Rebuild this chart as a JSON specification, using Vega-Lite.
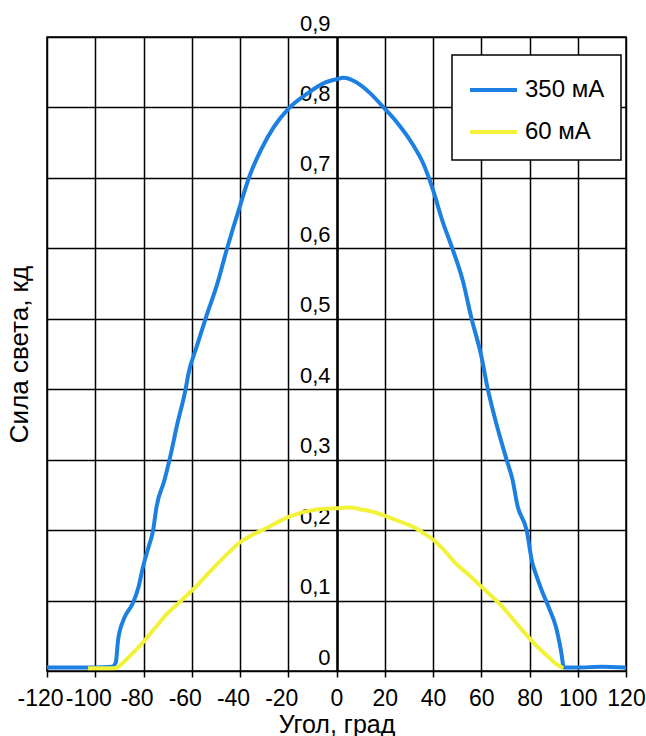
{
  "$schema": "https://vega.github.io/schema/vega-lite/v6.json",
  "width": 579,
  "height": 634,
  "autosize": "none",
  "padding": {"left": 47, "top": 37, "right": 20, "bottom": 65},
  "background": "white",
  "config": {
    "view": {"stroke": "black", "strokeWidth": 1.5},
    "font": "Liberation Sans",
    "axis": {"gridColor": "black", "gridOpacity": 1, "gridWidth": 1.5, "labelFont": "Liberation Sans", "titleFont": "Liberation Sans", "labelColor": "black", "titleColor": "black", "titleFontWeight": "normal"}
  },
  "data": {"values": [
    {"angle": -120, "value": 0.005, "series": "350 мА"},
    {"angle": -110, "value": 0.005, "series": "350 мА"},
    {"angle": -100, "value": 0.005, "series": "350 мА"},
    {"angle": -93, "value": 0.006, "series": "350 мА"},
    {"angle": -91.5, "value": 0.012, "series": "350 мА"},
    {"angle": -90.5, "value": 0.045, "series": "350 мА"},
    {"angle": -88, "value": 0.075, "series": "350 мА"},
    {"angle": -84.6, "value": 0.095, "series": "350 мА"},
    {"angle": -82, "value": 0.12, "series": "350 мА"},
    {"angle": -80.4, "value": 0.145, "series": "350 мА"},
    {"angle": -78, "value": 0.175, "series": "350 мА"},
    {"angle": -76, "value": 0.2, "series": "350 мА"},
    {"angle": -74.6, "value": 0.233, "series": "350 мА"},
    {"angle": -71.3, "value": 0.271, "series": "350 мА"},
    {"angle": -69.2, "value": 0.3, "series": "350 мА"},
    {"angle": -65.9, "value": 0.352, "series": "350 мА"},
    {"angle": -62.6, "value": 0.399, "series": "350 мА"},
    {"angle": -61.3, "value": 0.423, "series": "350 мА"},
    {"angle": -58, "value": 0.46, "series": "350 мА"},
    {"angle": -54, "value": 0.503, "series": "350 мА"},
    {"angle": -49.3, "value": 0.551, "series": "350 мА"},
    {"angle": -45.6, "value": 0.597, "series": "350 мА"},
    {"angle": -43.1, "value": 0.626, "series": "350 мА"},
    {"angle": -40.2, "value": 0.658, "series": "350 мА"},
    {"angle": -36, "value": 0.703, "series": "350 мА"},
    {"angle": -31, "value": 0.742, "series": "350 мА"},
    {"angle": -26, "value": 0.772, "series": "350 мА"},
    {"angle": -20, "value": 0.798, "series": "350 мА"},
    {"angle": -12, "value": 0.82, "series": "350 мА"},
    {"angle": -5, "value": 0.835, "series": "350 мА"},
    {"angle": 0, "value": 0.84, "series": "350 мА"},
    {"angle": 3, "value": 0.842, "series": "350 мА"},
    {"angle": 8, "value": 0.836, "series": "350 мА"},
    {"angle": 14, "value": 0.82, "series": "350 мА"},
    {"angle": 19.5, "value": 0.8, "series": "350 мА"},
    {"angle": 25, "value": 0.779, "series": "350 мА"},
    {"angle": 31.5, "value": 0.748, "series": "350 мА"},
    {"angle": 36, "value": 0.72, "series": "350 мА"},
    {"angle": 39.8, "value": 0.685, "series": "350 мА"},
    {"angle": 44, "value": 0.638, "series": "350 мА"},
    {"angle": 48, "value": 0.6, "series": "350 мА"},
    {"angle": 52.2, "value": 0.556, "series": "350 мА"},
    {"angle": 56, "value": 0.5, "series": "350 мА"},
    {"angle": 60.1, "value": 0.446, "series": "350 мА"},
    {"angle": 62.6, "value": 0.402, "series": "350 мА"},
    {"angle": 65.5, "value": 0.361, "series": "350 мА"},
    {"angle": 70.5, "value": 0.3, "series": "350 мА"},
    {"angle": 73, "value": 0.271, "series": "350 мА"},
    {"angle": 75, "value": 0.235, "series": "350 мА"},
    {"angle": 78.8, "value": 0.2, "series": "350 мА"},
    {"angle": 81.2, "value": 0.153, "series": "350 мА"},
    {"angle": 82.5, "value": 0.139, "series": "350 мА"},
    {"angle": 85, "value": 0.115, "series": "350 мА"},
    {"angle": 87.9, "value": 0.091, "series": "350 мА"},
    {"angle": 91, "value": 0.062, "series": "350 мА"},
    {"angle": 93, "value": 0.03, "series": "350 мА"},
    {"angle": 94.3, "value": 0.005, "series": "350 мА"},
    {"angle": 100, "value": 0.005, "series": "350 мА"},
    {"angle": 110, "value": 0.006, "series": "350 мА"},
    {"angle": 120, "value": 0.005, "series": "350 мА"},
    {"angle": -103, "value": 0.004, "series": "60 мА"},
    {"angle": -92, "value": 0.004, "series": "60 мА"},
    {"angle": -91, "value": 0.005, "series": "60 мА"},
    {"angle": -86, "value": 0.02, "series": "60 мА"},
    {"angle": -80.4, "value": 0.04, "series": "60 мА"},
    {"angle": -75, "value": 0.062, "series": "60 мА"},
    {"angle": -70, "value": 0.082, "series": "60 мА"},
    {"angle": -65, "value": 0.098, "series": "60 мА"},
    {"angle": -60.9, "value": 0.111, "series": "60 мА"},
    {"angle": -56, "value": 0.128, "series": "60 мА"},
    {"angle": -50, "value": 0.15, "series": "60 мА"},
    {"angle": -45, "value": 0.167, "series": "60 мА"},
    {"angle": -40.2, "value": 0.182, "series": "60 мА"},
    {"angle": -35, "value": 0.193, "series": "60 мА"},
    {"angle": -29, "value": 0.203, "series": "60 мА"},
    {"angle": -24, "value": 0.212, "series": "60 мА"},
    {"angle": -19.5, "value": 0.219, "series": "60 мА"},
    {"angle": -15.3, "value": 0.224, "series": "60 мА"},
    {"angle": -8.7, "value": 0.229, "series": "60 мА"},
    {"angle": 0, "value": 0.231, "series": "60 мА"},
    {"angle": 5, "value": 0.232, "series": "60 мА"},
    {"angle": 10.8, "value": 0.229, "series": "60 мА"},
    {"angle": 15, "value": 0.226, "series": "60 мА"},
    {"angle": 19.5, "value": 0.221, "series": "60 мА"},
    {"angle": 25, "value": 0.214, "series": "60 мА"},
    {"angle": 31.5, "value": 0.205, "series": "60 мА"},
    {"angle": 36, "value": 0.196, "series": "60 мА"},
    {"angle": 40.2, "value": 0.186, "series": "60 мА"},
    {"angle": 45, "value": 0.17, "series": "60 мА"},
    {"angle": 49.3, "value": 0.153, "series": "60 мА"},
    {"angle": 55, "value": 0.136, "series": "60 мА"},
    {"angle": 60, "value": 0.12, "series": "60 мА"},
    {"angle": 65, "value": 0.104, "series": "60 мА"},
    {"angle": 68.8, "value": 0.091, "series": "60 мА"},
    {"angle": 74, "value": 0.07, "series": "60 мА"},
    {"angle": 79.6, "value": 0.048, "series": "60 мА"},
    {"angle": 84, "value": 0.032, "series": "60 мА"},
    {"angle": 87.9, "value": 0.02, "series": "60 мА"},
    {"angle": 91, "value": 0.01, "series": "60 мА"},
    {"angle": 94, "value": 0.004, "series": "60 мА"}
  ]},
  "mark": {"type": "line", "strokeWidth": 4, "clip": true, "interpolate": "monotone"},
  "encoding": {
    "x": {
      "field": "angle", "type": "quantitative",
      "scale": {"domain": [-120, 120], "nice": false},
      "axis": {
        "title": "Угол, град", "titleFontSize": 25, "titlePadding": 2,
        "values": [-120, -100, -80, -60, -40, -20, 0, 20, 40, 60, 80, 100, 120],
        "labelExpr": "datum.value + ''",
        "labelFontSize": 23, "labelPadding": 10, "labelFlush": false, "labelOverlap": false,
        "tickColor": "black", "tickSize": 6, "tickWidth": 1.5,
        "domain": false, "grid": true,
        "labelOffset": {"condition": {"test": "datum.value < 0", "value": -7}, "value": 0}
      }
    },
    "y": {
      "field": "value", "type": "quantitative",
      "scale": {"domain": [0, 0.9], "nice": false},
      "axis": {
        "title": "Сила света, кд", "titleFontSize": 26, "titleX": -305,
        "values": [0, 0.1, 0.2, 0.3, 0.4, 0.5, 0.6, 0.7, 0.8, 0.9],
        "labelExpr": "datum.value == 0 ? '0' : replace(format(datum.value, '.1f'), '.', ',')",
        "labelFontSize": 22, "labelOffset": -14, "labelPadding": 7, "labelFlush": false, "labelOverlap": false,
        "offset": -290, "ticks": false,
        "domain": true, "domainColor": "black", "domainWidth": 2.5,
        "grid": true
      }
    },
    "color": {
      "field": "series", "type": "nominal",
      "scale": {"domain": ["350 мА", "60 мА"], "range": ["#1c7fe2", "#f2f23a"]},
      "legend": {
        "title": null, "orient": "none", "legendX": 405, "legendY": 18,
        "symbolType": "stroke", "symbolSize": 2209, "symbolStrokeWidth": 4,
        "labelFontSize": 24, "labelColor": "black", "labelOffset": 6,
        "rowPadding": 11, "padding": 16,
        "strokeColor": "black", "fillColor": "white",
        "encode": {
          "legend": {"update": {"strokeWidth": {"value": 1.5}}},
          "symbols": {"update": {"y": {"value": 19}}},
          "labels": {"update": {"y": {"value": 19}}}
        }
      }
    }
  }
}
